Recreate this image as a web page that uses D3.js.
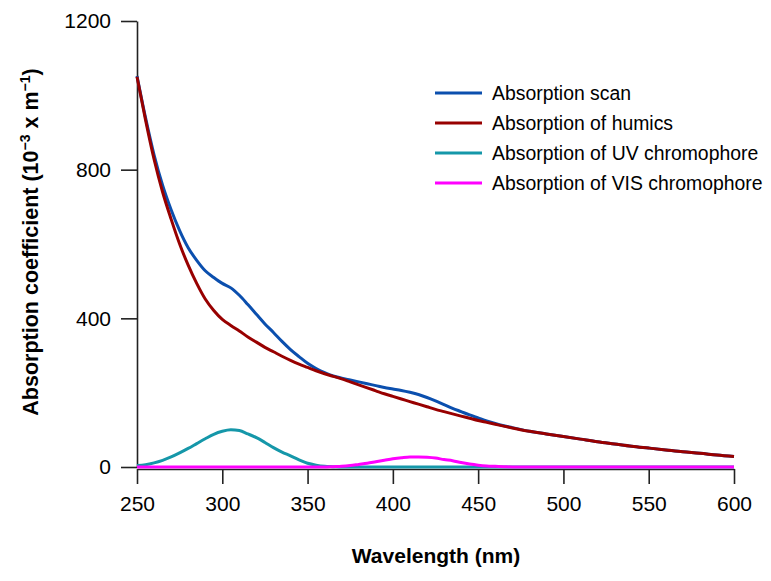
<!DOCTYPE html>
<html>
<head>
<meta charset="utf-8">
<script src="https://cdn.jsdelivr.net/npm/d3@7"></script>
<style>
  body { margin: 0; background: #fff; }
  svg { display: block; font-family: "Liberation Sans", Arial, sans-serif; }
</style>
</head>
<body>
<div id="chart"></div>
<script>
// wavelengths (nm) and values
const wlFine = [250,255,260,265,270,275,280,285,290,295,300,305,310,315,320,325,330,335,340,345,350,355,360,365,370,375,380,385,390,395,400,405,410,415,420,425,430,435,440,445,450,455,460,465,470]
const wlCoarse = [480,490,500,510,520,530,540,550,560,570,580,590,600]

const scanFine = [1052,940,840,758,692,636,590,556,528,510,494,482,462,437,411,385,362,338,316,297,279,265,254,245,239,234,229,224,219,214,210,206,201,195,187,178,168,158,149,140,132,124,117,111,106]
const humicsFine = [1050,934,828,740,667,600,543,494,452,421,397,381,366,350,336,322,310,298,287,277,268,259,251,244,237,229,221,213,205,197,190,183,176,169,162,155,149,143,137,131,125,120,115,110,105]
const tailCoarse = [96,89,82,75,68,62,56,51,46,41,37,32,28]

const uvFine = [4,6,11,18,27,38,50,63,76,88,96,100,98,89,79,66,52,40,30,19,10,5,2,1,0,0,0,0,0,0,0,0,0,0,0,0,0,0,0,0,0,0,0,0,0]
const visFine = [0,0,0,0,0,0,0,0,0,0,0,0,0,0,0,0,0,0,0,0,0,0,0,1,2,4,7,10,14,18,22,25,27,27,26,24,20,17,12,8,5,3,2,1,0]
const zeroCoarse = [0,0,0,0,0,0,0,0,0,0,0,0,0]

const xTicks = [250,300,350,400,450,500,550,600]
const yTicks = [0,400,800,1200]

const seriesNames = ['Absorption scan','Absorption of humics','Absorption of UV chromophore','Absorption of VIS chromophore']
const seriesColors = ['#0b4fae','#980000','#1597a9','#ff00ff']

const wl = wlFine.concat(wlCoarse)
const seriesValues = [
  scanFine.concat(tailCoarse),
  humicsFine.concat(tailCoarse),
  uvFine.concat(zeroCoarse),
  visFine.concat(zeroCoarse)
]

const W = 771, H = 581
const svg = d3.select('#chart').append('svg')
  .attr('width', W)
  .attr('height', H)

const x = d3.scaleLinear().domain([250, 600]).range([137, 734])
const y = d3.scaleLinear().domain([0, 1200]).range([467, 21])

// x axis
const xAxis = svg.append('g')
  .attr('transform', 'translate(0,469)')
  .call(d3.axisBottom(x).tickValues(xTicks).tickFormat(d3.format('d'))
    .tickSize(15).tickSizeOuter(0).tickPadding(12))
xAxis.select('.domain').attr('stroke', '#222').attr('stroke-width', 1.6)
xAxis.selectAll('.tick line').attr('stroke', '#222').attr('stroke-width', 1.6)
xAxis.selectAll('text').attr('font-size', 21).attr('fill', '#000')
  .attr('font-family', '"Liberation Sans", Arial, sans-serif')

// y axis
const yAxis = svg.append('g')
  .attr('transform', 'translate(137,0)')
  .call(d3.axisLeft(y).tickValues(yTicks).tickFormat(d3.format('d'))
    .tickSize(16).tickSizeOuter(0).tickPadding(10))
yAxis.select('.domain').attr('stroke', '#222').attr('stroke-width', 1.6)
yAxis.selectAll('.tick line').attr('stroke', '#222').attr('stroke-width', 1.6)
yAxis.selectAll('text').attr('font-size', 21).attr('fill', '#000')
  .attr('font-family', '"Liberation Sans", Arial, sans-serif')

// lines
const line = d3.line()
  .x(d => x(d[0]))
  .y(d => y(d[1]))
  .curve(d3.curveMonotoneX)

seriesValues.forEach((vals, i) => {
  svg.append('path')
    .datum(wl.map((w, j) => [w, vals[j]]))
    .attr('fill', 'none')
    .attr('stroke', seriesColors[i])
    .attr('stroke-width', 3)
    .attr('stroke-linejoin', 'round')
    .attr('d', line)
})

// legend
const legend = svg.append('g')
seriesNames.forEach((name, i) => {
  const ly = 93 + i * 30
  legend.append('line')
    .attr('x1', 435).attr('x2', 482)
    .attr('y1', ly).attr('y2', ly)
    .attr('stroke', seriesColors[i])
    .attr('stroke-width', 3)
  legend.append('text')
    .attr('x', 492).attr('y', ly)
    .attr('dy', '0.35em')
    .attr('font-size', 19.4)
    .text(name)
})

// axis titles
svg.append('text')
  .attr('x', 436).attr('y', 563)
  .attr('text-anchor', 'middle')
  .attr('font-size', 21)
  .attr('font-weight', 'bold')
  .text('Wavelength (nm)')

const yTitle = svg.append('text')
  .attr('transform', 'translate(38,242) rotate(-90)')
  .attr('text-anchor', 'middle')
  .attr('font-size', 21.5)
  .attr('font-weight', 'bold')
yTitle.append('tspan').text('Absorption coefficient (10')
yTitle.append('tspan').attr('font-size', 14).attr('baseline-shift', '60%').text('\u22123')
yTitle.append('tspan').text(' x m')
yTitle.append('tspan').attr('font-size', 14).attr('baseline-shift', '60%').text('\u22121')
yTitle.append('tspan').text(')')
</script>
</body>
</html>
